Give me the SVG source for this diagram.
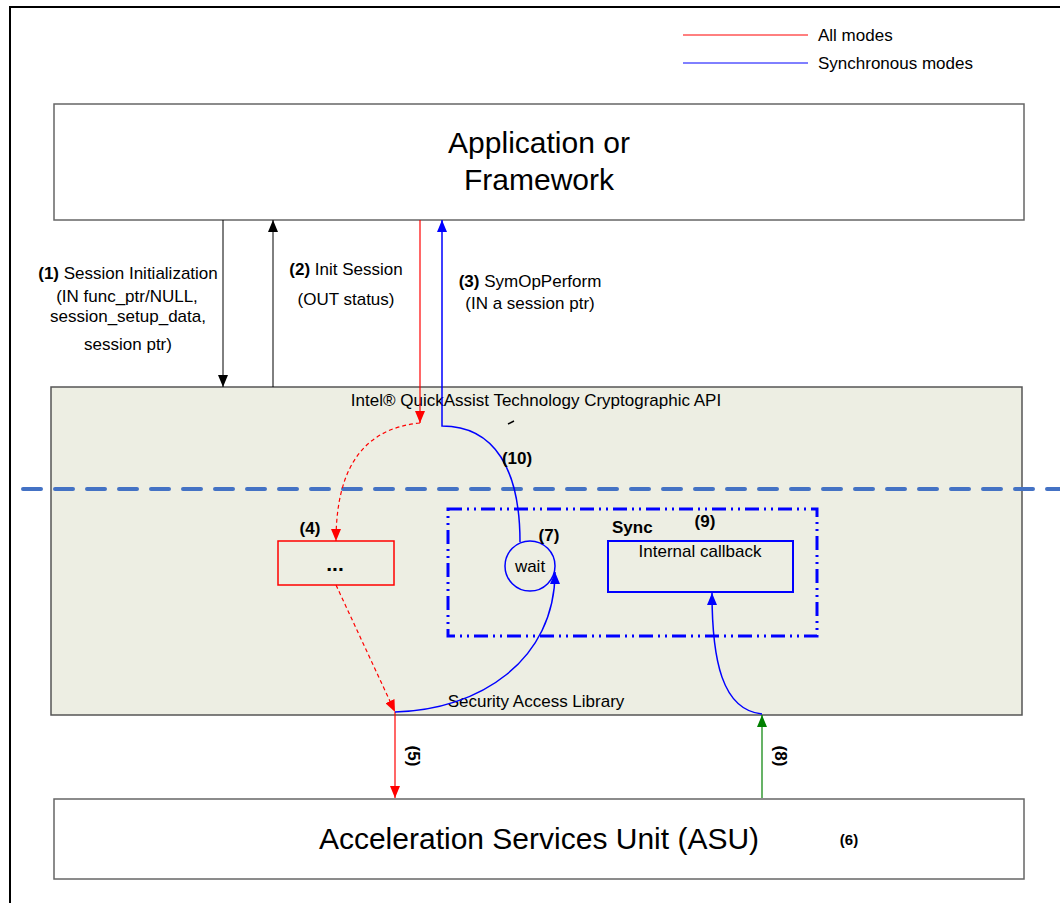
<svg xmlns="http://www.w3.org/2000/svg" width="1060" height="903" viewBox="0 0 1060 903">
<style>
text{font-family:"Liberation Sans",Arial,sans-serif;fill:#000}
.t17{font-size:17px}
.b17{font-size:17px;font-weight:bold}
.big{font-size:30px}
.box{fill:#fff;stroke:#666;stroke-width:1.5}
.c{text-anchor:middle}
</style>
<defs>
<marker id="ak" viewBox="0 0 12 10" refX="12" refY="5" markerWidth="12" markerHeight="10" markerUnits="userSpaceOnUse" orient="auto"><path d="M0,0 L12,5 L0,10 z" fill="#000"/></marker>
<marker id="ar" viewBox="0 0 12 10" refX="12" refY="5" markerWidth="12" markerHeight="10" markerUnits="userSpaceOnUse" orient="auto"><path d="M0,0 L12,5 L0,10 z" fill="#f00"/></marker>
<marker id="ab" viewBox="0 0 12 10" refX="12" refY="5" markerWidth="12" markerHeight="10" markerUnits="userSpaceOnUse" orient="auto"><path d="M0,0 L12,5 L0,10 z" fill="#00f"/></marker>
<marker id="ag" viewBox="0 0 12 10" refX="12" refY="5" markerWidth="12" markerHeight="10" markerUnits="userSpaceOnUse" orient="auto"><path d="M0,0 L12,5 L0,10 z" fill="#008000"/></marker>
</defs>
<rect x="0" y="0" width="1060" height="903" fill="#fff"/>
<rect x="10" y="7" width="1100" height="1000" fill="none" stroke="#000" stroke-width="2"/>

<g id="legend">
<line x1="683" y1="35" x2="808" y2="35" stroke="#f00" stroke-width="1"/>
<line x1="683" y1="63" x2="808" y2="63" stroke="#00f" stroke-width="1"/>
<text class="t17" x="818" y="41">All modes</text>
<text class="t17" x="818" y="69">Synchronous modes</text>
</g>

<g id="app">
<rect class="box" x="54" y="104" width="970" height="116"/>
<text class="big c" x="539" y="153">Application or</text>
<text class="big c" x="539" y="190">Framework</text>
</g>

<g id="sal">
<rect x="51" y="387" width="971" height="328" fill="#EDEEE3" stroke="#555" stroke-width="1.5"/>
<text class="t17 c" x="536" y="406">Intel® QuickAssist Technology Cryptographic API</text>
<text class="t17 c" x="536" y="707">Security Access Library</text>
<line x1="508" y1="424" x2="514" y2="421" stroke="#000" stroke-width="1.5"/>
</g>

<g id="divider">
<line x1="23" y1="489" x2="1060" y2="489" stroke="#4472C4" stroke-width="4" stroke-linecap="round" stroke-dasharray="18 14"/>
</g>

<g id="sync">
<rect x="448" y="509" width="369" height="127" fill="none" stroke="#00f" stroke-width="3" stroke-dasharray="14 5 2 5 2 5"/>
<text class="b17" x="612" y="533">Sync</text>
<text class="b17 c" x="705" y="527">(9)</text>
</g>

<g id="box4">
<rect x="278" y="541" width="116" height="44" fill="none" stroke="#f00" stroke-width="1.5"/>
<text class="c" x="335" y="571" style="font-size:21px;font-weight:bold">...</text>
<text class="b17 c" x="310" y="534">(4)</text>
</g>

<g id="wait">
<circle cx="530" cy="566" r="25" fill="none" stroke="#00f" stroke-width="1.5"/>
<text class="t17 c" x="530" y="572">wait</text>
<text class="b17 c" x="549" y="541">(7)</text>
</g>

<g id="callback">
<rect x="608" y="541" width="185" height="51" fill="none" stroke="#00f" stroke-width="2"/>
<text class="t17 c" x="700" y="557">Internal callback</text>
</g>

<g id="asu">
<rect class="box" x="54" y="799" width="970" height="80"/>
<text class="big c" x="539" y="849">Acceleration Services Unit (ASU)</text>
<text class="c" x="849" y="845" style="font-size:15px;font-weight:bold">(6)</text>
</g>

<g id="connectors" fill="none">
<line x1="223" y1="220" x2="223" y2="387" stroke="#000" stroke-width="1" marker-end="url(#ak)"/>
<line x1="273" y1="387" x2="273" y2="220" stroke="#000" stroke-width="1" marker-end="url(#ak)"/>
<line x1="420" y1="220" x2="420" y2="423" stroke="#f00" stroke-width="1.2" marker-end="url(#ar)"/>
<path d="M420,423 C368,428 336,462 336,541" stroke="#f00" stroke-width="1.2" stroke-dasharray="4 3" marker-end="url(#ar)"/>
<line x1="336" y1="585" x2="395" y2="712" stroke="#f00" stroke-width="1.2" stroke-dasharray="4 3" marker-end="url(#ar)"/>
<line x1="395" y1="712" x2="395" y2="798" stroke="#f00" stroke-width="1.2" marker-end="url(#ar)"/>
<path d="M520,542 C520,470 495,426 442,426 L442,220" stroke="#00f" stroke-width="1.5" marker-end="url(#ab)"/>
<path d="M395,712 C480,710 555,660 555,572" stroke="#00f" stroke-width="1.5" marker-end="url(#ab)"/>
<line x1="762" y1="798" x2="762" y2="715" stroke="#008000" stroke-width="1.2" marker-end="url(#ag)"/>
<path d="M762,714 C722,710 712,660 712,593" stroke="#00f" stroke-width="1.5" marker-end="url(#ab)"/>
</g>

<g id="labels">
<text class="t17 c" x="128" y="279"><tspan font-weight="bold">(1)</tspan> Session Initialization</text>
<text class="t17 c" x="127" y="302">(IN func_ptr/NULL,</text>
<text class="t17 c" x="128" y="322">session_setup_data,</text>
<text class="t17 c" x="128" y="350">session ptr)</text>
<text class="t17 c" x="346" y="275"><tspan font-weight="bold">(2)</tspan> Init Session</text>
<text class="t17 c" x="346" y="305">(OUT status)</text>
<text class="t17 c" x="530" y="287"><tspan font-weight="bold">(3)</tspan> SymOpPerform</text>
<text class="t17 c" x="530" y="309">(IN a session ptr)</text>
<text class="b17 c" x="517" y="464">(10)</text>
<text class="b17 c" transform="translate(414,756) rotate(90)" y="6">(5)</text>
<text class="b17 c" transform="translate(781,756) rotate(90)" y="6">(8)</text>
</g>
</svg>
